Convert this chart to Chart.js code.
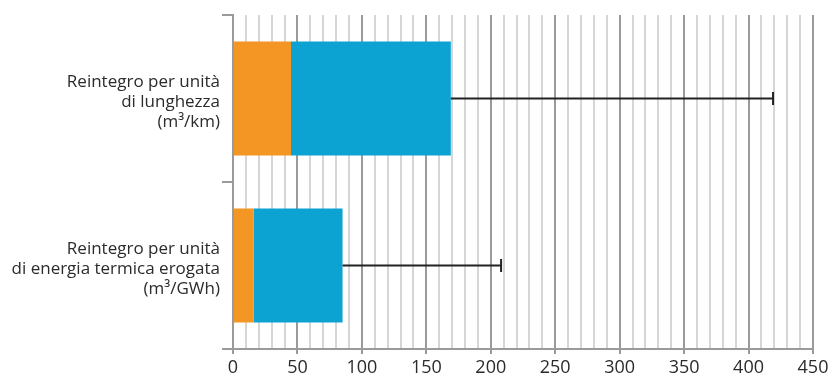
<!DOCTYPE html>
<html>
<head>
<meta charset="utf-8">
<script src="https://cdn.jsdelivr.net/npm/chart.js@4/dist/chart.umd.min.js"></script>
<style>
  html, body { margin: 0; padding: 0; background: #fff; }
  #wrap { width: 830px; height: 376px; }
</style>
</head>
<body>
<div id="wrap"><canvas id="c" width="830" height="376"></canvas></div>
<script>
// Categories (multi-line labels)
const categories = [
  ['Reintegro per unità', 'di lunghezza', '(m³/km)'],
  ['Reintegro per unità', 'di energia termica erogata', '(m³/GWh)']
];
// Stacked segments
const orangeValues = [45, 16];
const blueValues = [124, 69];
// Upper end of the whiskers
const whiskerMax = [419, 208];
// Axis range and tick labels
const xMin = 0, xMax = 450, minorStep = 10, majorStep = 50;

const ORANGE = '#F39623';
const BLUE = '#0CA3D3';
const MAJOR_GRID = '#9a9a9a';
const MINOR_GRID = '#d6d6d6';
const TEXT = '#2b2b2b';

// Draws a horizontal whisker from the stacked bar end to whiskerMax
const whiskerPlugin = {
  id: 'whiskers',
  afterDatasetsDraw(chart) {
    const { ctx, scales } = chart;
    const meta = chart.getDatasetMeta(1);
    ctx.save();
    ctx.strokeStyle = '#222';
    ctx.lineWidth = 2;
    meta.data.forEach((bar, i) => {
      const y = bar.y;
      const x0 = scales.x.getPixelForValue(orangeValues[i] + blueValues[i]);
      const x1 = scales.x.getPixelForValue(whiskerMax[i]);
      ctx.beginPath();
      ctx.moveTo(x0, y);
      ctx.lineTo(x1, y);
      ctx.stroke();
      ctx.beginPath();
      ctx.moveTo(x1, y - 6.5);
      ctx.lineTo(x1, y + 6.5);
      ctx.stroke();
    });
    ctx.restore();
  }
};

new Chart(document.getElementById('c'), {
  type: 'bar',
  data: {
    labels: categories,
    datasets: [
      { data: orangeValues, backgroundColor: ORANGE, barPercentage: 0.683, categoryPercentage: 1 },
      { data: blueValues, backgroundColor: BLUE, barPercentage: 0.683, categoryPercentage: 1 }
    ]
  },
  options: {
    indexAxis: 'y',
    responsive: false,
    animation: false,
    layout: { padding: { top: 15, right: 17, left: 0, bottom: 0 } },
    plugins: { legend: { display: false }, tooltip: { enabled: false } },
    scales: {
      x: {
        stacked: true,
        min: xMin,
        max: xMax,
        afterFit(scale) {
          scale.height = 27;
          scale.paddingLeft = 0;
          scale.paddingRight = 0;
        },
        ticks: {
          stepSize: minorStep,
          autoSkip: false,
          maxRotation: 0,
          padding: 3,
          color: TEXT,
          font: { family: 'Open Sans', size: 18, lineHeight: 1.2 },
          callback: (v) => (v % majorStep === 0 ? String(v) : '')
        },
        grid: {
          lineWidth: 2,
          color: (c) => (c.tick && c.tick.value % majorStep === 0 ? MAJOR_GRID : MINOR_GRID),
          tickColor: (c) => (c.tick && c.tick.value % majorStep === 0 ? MAJOR_GRID : 'rgba(0,0,0,0)'),
          tickLength: 5
        },
        border: { color: MAJOR_GRID, width: 2 }
      },
      y: {
        stacked: true,
        afterFit(scale) {
          scale.width = 233;
          scale.paddingTop = 0;
          scale.paddingBottom = 0;
        },
        ticks: {
          color: TEXT,
          padding: 2,
          labelOffset: 4,
          font: { family: 'Open Sans', size: 17, lineHeight: 1.18 }
        },
        grid: {
          offset: true,
          drawOnChartArea: false,
          lineWidth: 2,
          tickColor: MAJOR_GRID,
          tickLength: 11
        },
        border: { color: MAJOR_GRID, width: 2 }
      }
    }
  },
  plugins: [whiskerPlugin]
});
</script>
</body>
</html>
